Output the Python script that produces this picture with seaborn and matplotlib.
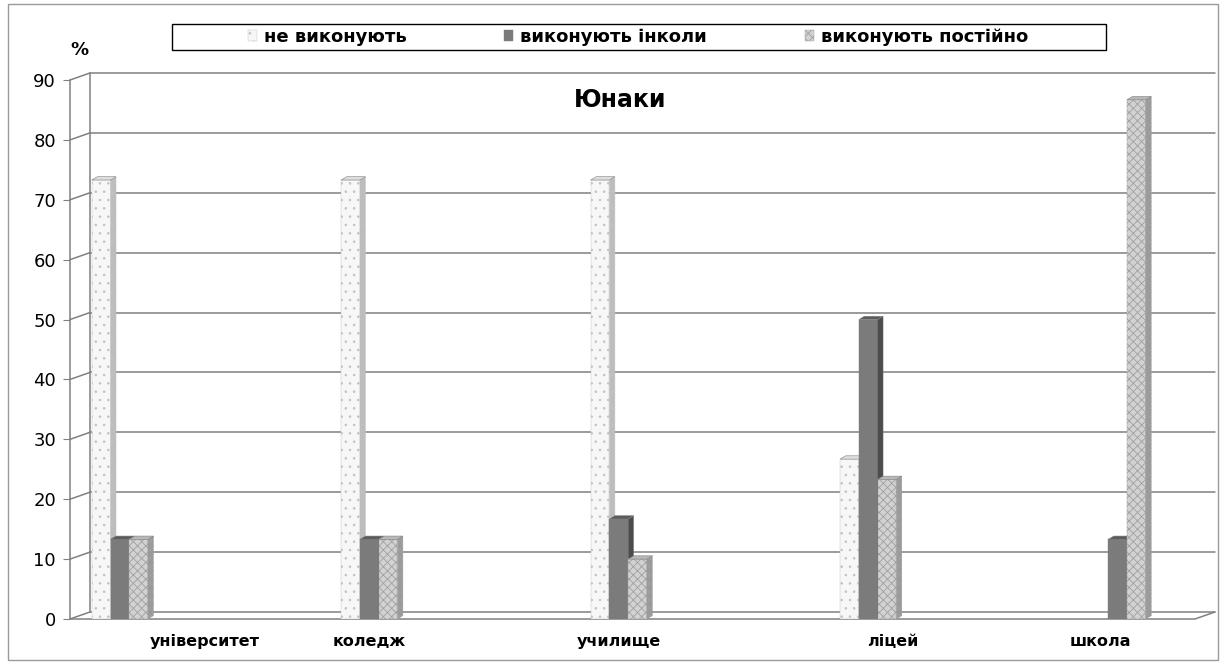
import matplotlib
matplotlib.use('Agg')
import matplotlib.pyplot as plt
from matplotlib.patches import Polygon, Rectangle, Patch
import pandas as pd
import seaborn as sns

# data
categories = ['університет', 'коледж', 'училище', 'ліцей', 'школа']
series = ['не виконують', 'виконують інколи', 'виконують постійно']
ne_vykonuiut = [73.3, 73.3, 73.3, 26.7, 0.0]
vykonuiut_inkoly = [13.3, 13.3, 16.7, 50.0, 13.3]
vykonuiut_postiino = [13.3, 13.3, 10.0, 23.3, 86.7]
y_ticks = [0, 10, 20, 30, 40, 50, 60, 70, 80, 90]
title = 'Юнаки'

df = pd.DataFrame({
    'category': categories * 3,
    'series': [series[0]] * 5 + [series[1]] * 5 + [series[2]] * 5,
    'value': ne_vykonuiut + vykonuiut_inkoly + vykonuiut_postiino,
})

# styling
front = ['#f7f7f7', '#7b7b7b', '#d2d2d2']
hatches = ['..', '', 'xxxx']
hatch_col = ['#c2c2c2', '#7b7b7b', '#a0a0a0']
side = ['#bdbdbd', '#4c4c4c', '#9a9a9a']
top = ['#dedede', '#5c5c5c', '#b8b8b8']
grid_col = '#808080'

sns.set_style('white')
plt.rcParams['font.family'] = ['DejaVu Sans', 'Liberation Sans']
plt.rcParams['text.color'] = 'black'
plt.rcParams['ytick.labelcolor'] = 'black'
plt.rcParams['hatch.linewidth'] = 0.6

fig = plt.figure(figsize=(12.24, 6.66), dpi=100)
ax = fig.add_axes([70 / 1224, 47 / 666, 1125 / 1224, 539 / 666])

sns.barplot(data=df, x='category', y='value', hue='series', order=categories,
            hue_order=series, palette=dict(zip(series, front)), saturation=1,
            width=0.225, legend=False, ax=ax, errorbar=None)

xmin, xmax = -0.2, 4.31
ax.set_xlim(xmin, xmax)
ax.set_ylim(0, 90)

# fake depth
wdx, wdy = 0.08, 1.17    # back wall offset
bdx, bdy = 0.022, 0.55   # bar depth

for k, cont in enumerate(ax.containers):
    for p in cont.patches:
        h = p.get_height()
        if h <= 0:
            p.set_visible(False)
            continue
        x0 = p.get_x()
        x1 = x0 + p.get_width()
        p.set_hatch(hatches[k])
        p.set_edgecolor(hatch_col[k])
        p.set_linewidth(0.3)
        p.set_zorder(3 + k)
        ax.add_patch(Polygon([(x1, 0), (x1 + bdx, bdy), (x1 + bdx, h + bdy), (x1, h)],
                             closed=True, facecolor=side[k], edgecolor=hatch_col[k],
                             hatch=hatches[k], lw=0.3, zorder=3 + k))
        ax.add_patch(Polygon([(x0, h), (x1, h), (x1 + bdx, h + bdy), (x0 + bdx, h + bdy)],
                             closed=True, facecolor=top[k], edgecolor=grid_col,
                             lw=0.4, zorder=3 + k))

# back wall grid + connectors
for v in y_ticks:
    ax.plot([xmin + wdx, xmax + wdx], [v + wdy, v + wdy], color=grid_col, lw=1.1,
            zorder=1, clip_on=False)
    ax.plot([xmin, xmin + wdx], [v, v + wdy], color=grid_col, lw=1.1, zorder=1, clip_on=False)
ax.plot([xmin + wdx, xmin + wdx], [wdy, 90 + wdy], color=grid_col, lw=1.1, zorder=1, clip_on=False)
# floor
ax.plot([xmin, xmax, xmax + wdx], [0, 0, wdy], color=grid_col, lw=1.1, zorder=2, clip_on=False)

sns.despine(ax=ax, top=True, right=True, bottom=True, left=False)
ax.spines['left'].set_color(grid_col)
ax.spines['left'].set_linewidth(1.1)
ax.set_yticks(y_ticks)
ax.tick_params(axis='y', length=5, color=grid_col, labelsize=13, pad=5, left=True)
ax.set_xticks([])
ax.set_xlabel('')
ax.set_ylabel('')

# category labels (Excel puts them a bit off-centre)
label_shift = [0.34, 0.0, 0.0, 0.1, -0.07]
trans = ax.get_xaxis_transform()
for i, c in enumerate(categories):
    ax.text(i + label_shift[i], -0.041, c, transform=trans, ha='center', va='center',
            fontsize=11.5, fontweight='bold')

fig.text(79 / 1224, 1 - 50 / 666, '%', ha='center', va='center', fontsize=13, fontweight='bold')
fig.text(620 / 1224, 1 - 100 / 666, title, ha='center', va='center', fontsize=17,
         fontweight='bold')

# legend
handles = [Patch(facecolor=front[k], edgecolor=hatch_col[k], hatch=hatches[k], lw=0.3)
           for k in range(3)]
fig.patches.append(Rectangle((172 / 1224, 1 - 50 / 666), 934 / 1224, 26 / 666,
                             transform=fig.transFigure, facecolor='white',
                             edgecolor='black', lw=1.0, zorder=5))
leg = fig.legend(handles, series, loc='center', bbox_to_anchor=(638 / 1224, 1 - 37 / 666),
                 ncol=3, frameon=False, handlelength=0.5, handleheight=0.5,
                 handletextpad=0.4, columnspacing=5.4, prop={'weight': 'bold', 'size': 13})
leg.set_zorder(6)

# outer border
fig.patches.append(Rectangle((8 / 1224, 6 / 666), 1210 / 1224, 656 / 666,
                             transform=fig.transFigure, fill=False,
                             edgecolor='#9a9a9a', lw=1.0, zorder=0))

fig.savefig('out.png', dpi=100)
